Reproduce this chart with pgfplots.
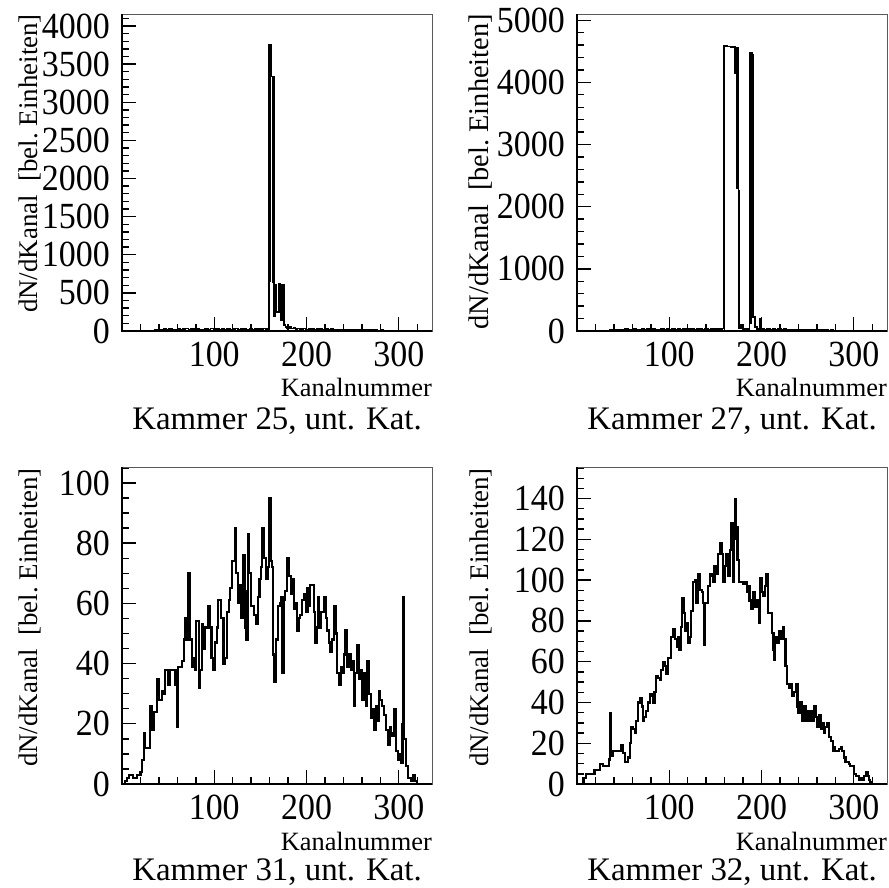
\documentclass[border=0pt]{standalone}
\usepackage{fontspec}
\setmainfont{Liberation Serif}
\newfontfamily\tickfont[FakeStretch=0.92]{Liberation Serif}
\usepackage{pgfplots}
\pgfplotsset{compat=1.18}
\pgfplotsset{
  rootaxis/.style={
    scale only axis, width=310bp, height=317bp,
    xmin=0, xmax=336, ymin=0,
    axis line style={draw=black!65, line width=0.8bp},
    tick align=inside, tick pos=left,
    major tick length=14bp, minor tick length=7bp,
    every tick/.style={black, line width=1.4bp},
    xtick={100,200,300}, minor xtick={20,40,...,320},
    ticklabel style={font=\tickfont\fontsize{37}{37}\selectfont},
    /pgf/number format/assume math mode=true,
    /pgf/number format/set thousands separator={},
    xticklabel style={inner sep=0pt, anchor=north, yshift=-11bp},
    yticklabel style={inner sep=0pt, anchor=east, xshift=-12bp},
    clip=false,
    anchor=south west,
  },
  hist/.style={const plot mark left, black, line width=2.1bp, no marks, line join=miter},
}
\newcommand{\axlines}{\draw[black, line width=1.5bp] (rel axis cs:0,1) -- (rel axis cs:0,0) -- (rel axis cs:1,0);}
\begin{document}
\begin{tikzpicture}
\path[use as bounding box] (0,0) rectangle (889bp,888bp);

% ---------- Panel 1 ----------
\begin{axis}[rootaxis, at={(122bp,557bp)}, ymax=4157,
  ytick={0,500,...,4000}, minor ytick={100,200,...,4100}]
\addplot[hist, line width=1.6bp] coordinates {
(0,0) (4,2) (8,1) (12,3) (16,2) (20,4) (24,3) (28,5) (32,8) (36,14) (39,22) (42,12) (45,25) (48,18) (51,30) (54,14) (57,20) (60,28) (63,16) (66,24) (69,33) (72,18) (75,26) (78,15) (81,30) (84,22) (87,18) (90,28) (93,20) (96,32) (99,16) (102,24) (105,20) (108,30) (111,22) (114,28) (117,18) (120,26) (123,34) (126,20) (129,24) (132,30) (135,18) (138,26) (141,22) (144,30) (147,24) (150,28) (153,34) (156,30)
(159,3750) (160,650) (161,3750) (162,3335) (163,640) (164,3335) (165,190) (166,600) (167.5,250) (170,625) (172,145) (173.5,610) (175.5,80) (177,55) (179,40) (181,50) (183,35) (186,40) (188,25) (190,35) (193,28) (196,35) (199,22) (202,30) (205,26) (208,20) (211,28) (214,24) (217,18) (220,26) (223,20) (226,24) (229,16) (232,22) (235,18) (238,20) (241,14) (244,22) (247,18) (250,16) (253,20) (256,12) (259,18) (262,14) (265,16) (268,10) (271,14) (274,12) (277,8) (280,12) (283,6) (286,9) (289,4) (292,6) (295,2) (300,3) (305,1) (310,2) (315,0) (336,0)
};
\axlines
\end{axis}

% ---------- Panel 2 ----------
\begin{axis}[rootaxis, at={(577bp,557bp)}, ymax=5100,
  ytick={0,1000,...,5000}, minor ytick={200,400,...,5000}]
\addplot[hist, line width=1.8bp] coordinates {
(0,0) (4,2) (8,1) (12,3) (16,2) (20,4) (24,2) (28,5) (32,6) (36,12) (40,20) (43,10) (46,24) (49,15) (52,28) (55,18) (58,22) (61,30) (64,16) (67,25) (70,35) (73,20) (76,28) (79,18) (82,32) (85,24) (88,20) (91,30) (94,22) (97,34) (100,18) (103,26) (106,22) (109,32) (112,24) (115,30) (118,20) (121,28) (124,36) (127,22) (130,26) (133,32) (136,20) (139,28) (142,24) (145,32) (148,26) (151,30) (154,36) (157,40)
(159,4585) (163,4578) (167,4568) (171,4150) (172,4560) (173,2300) (174,4555) (175,2260) (176,40) (178,90) (180,30) (182,25) (184,35) (186,20)
(187,4470) (188,120) (189,4470) (190,4440) (191,230) (193,60) (195,30) (198,200) (200,30) (203,25) (206,32) (209,20) (212,28) (215,22) (218,30) (221,18) (224,26) (227,20) (230,24) (233,16) (236,22) (239,18) (242,25) (245,15) (248,20) (251,18) (254,14) (257,20) (260,12) (263,16) (266,10) (269,14) (272,8) (275,12) (278,6) (281,9) (284,5) (287,7) (290,3) (295,4) (300,2) (305,3) (310,1) (315,0) (336,0)
};
\axlines
\end{axis}

% ---------- Panel 3 ----------
\begin{axis}[rootaxis, at={(122bp,104bp)}, ymax=105.3,
  ytick={0,20,...,100}, minor ytick={5,10,...,105}]
\addplot[hist] coordinates {
(0,0) (3,1) (5,2) (8,3) (12,2) (16,3) (20,4) (22,8) (24,17) (25,12) (27,12) (30,26) (33,18) (35,24) (38,35) (40,28) (43,31) (45,30) (47,38) (50,33) (52,38) (56,38) (58,33) (60,19) (61,39) (65,41) (67,48) (68,55) (71,48) (72,70) (74,48) (76,39) (78,42) (79,38) (80,54) (83,32) (85,38) (87,53) (88,45) (90,52) (93,59) (95,52) (97,42) (99,38) (101,47) (103,52) (104,61) (107,55) (110,40) (112,42) (114,57) (116,61) (117,65) (119,74) (122,85) (124,70) (126,60) (127,66) (129,55) (131,76) (133,52) (134,48) (136,64) (137,83) (138,70) (140,59) (143,56) (145,53) (147,62) (149,68) (151,72) (152,85) (154,75) (156,68) (158,72) (159,95) (161,74) (163,72) (164,43) (165,34) (167,48) (169,59) (171,60) (172,62) (174,37) (175,61) (177,64) (179,75) (181,69) (183,63) (184,68) (186,58) (188,60) (190,51) (192,55) (193,56) (195,61) (197,63) (199,57) (201,65) (203,59) (204,66) (206,66) (208,57) (209,47) (211,52) (213,62) (214,52) (216,57) (219,62) (221,55) (222,51) (224,47) (226,44) (228,48) (230,59) (232,50) (233,37) (235,33) (237,39) (239,37) (241,43) (242,51) (244,39) (246,43) (248,38) (250,41) (251,26) (253,37) (255,46) (257,35) (259,38) (260,28) (262,37) (264,26) (266,41) (268,30) (270,22) (271,25) (273,18) (275,26) (277,21) (279,31) (280,28) (282,26) (284,23) (286,18) (288,13) (290,19) (291,17) (293,16) (295,25) (297,11) (299,8) (300,10) (302,7) (304,20) (305,62) (306,15) (308,6) (310,2) (313,1) (315,3) (317,2) (318,1) (320,0) (336,0)
};
\axlines
\end{axis}

% ---------- Panel 4 ----------
\begin{axis}[rootaxis, at={(577bp,104bp)}, ymax=155.5,
  ytick={0,20,...,140}, minor ytick={5,10,...,155}]
\addplot[hist] coordinates {
(0,0) (6,0) (7,3) (10,5) (19,7) (25,10) (28,9) (35,12) (36,35) (37,14) (39,16) (46,16) (48,19) (50,15) (52,11) (55,13) (57,20) (59,28) (61,27) (63,25) (64,31) (66,40) (68,42) (70,38) (72,31) (73,33) (75,36) (77,40) (79,44) (81,43) (82,40) (84,45) (86,53) (88,52) (90,51) (91,56) (93,60) (95,58) (97,54) (99,62) (101,62) (102,72) (104,76) (106,71) (108,67) (110,72) (111,66) (113,77) (114,91) (116,84) (117,75) (119,79) (120,69) (122,72) (124,85) (126,99) (128,100) (129,89) (131,103) (133,95) (135,94) (137,89) (138,68) (139,89) (142,97) (144,103) (146,102) (147,99) (149,107) (151,103) (153,113) (155,118) (157,113) (158,99) (160,107) (162,113) (164,102) (166,115) (167,128) (169,99) (170,120) (171,140) (172,126) (174,110) (176,99) (178,99) (180,98) (182,99) (184,94) (186,97) (187,90) (189,86) (191,94) (193,87) (195,90) (197,79) (198,101) (200,94) (202,92) (204,97) (205,103) (207,84) (209,84) (211,74) (213,66) (214,61) (215,72) (217,69) (219,75) (221,71) (223,77) (224,71) (226,58) (228,49) (230,47) (231,49) (233,43) (235,45) (237,49) (239,38) (240,35) (242,40) (244,31) (246,38) (248,31) (249,36) (251,31) (253,36) (255,31) (257,38) (259,33) (260,28) (262,34) (264,27) (266,30) (268,25) (269,28) (271,30) (273,23) (275,21) (277,16) (278,18) (280,16) (284,17) (286,18) (287,16) (289,13) (291,11) (295,10) (296,9) (300,5) (302,4) (306,2) (307,3) (309,2) (311,4) (313,6) (315,4) (316,2) (318,1) (320,0) (336,0)
};
\axlines
\end{axis}

% ---------- texts ----------
\tikzset{ylab/.style={rotate=90, anchor=base east, inner sep=0pt, font=\fontsize{27}{27}\selectfont},
         xlab/.style={anchor=base east, inner sep=0pt, font=\fontsize{26.5}{26.5}\selectfont},
         ttl/.style={anchor=base, inner sep=0pt, font=\fontsize{33}{33}\selectfont}}
\node[ylab] at (37bp,874bp) {dN/dKanal\ \ [bel.\ Einheiten]};
\node[ylab, font=\fontsize{28.5}{28.5}\selectfont] at (488bp,874bp) {dN/dKanal\ \ [bel.\ Einheiten]};
\node[ylab] at (37bp,420bp) {dN/dKanal\ \ [bel.\ Einheiten]};
\node[ylab] at (488bp,420bp) {dN/dKanal\ \ [bel.\ Einheiten]};
\node[xlab] at (432bp,491bp) {Kanalnummer};
\node[xlab] at (887bp,491bp) {Kanalnummer};
\node[xlab] at (432bp,38bp) {Kanalnummer};
\node[xlab] at (887bp,38bp) {Kanalnummer};
\node[ttl] at (277bp,458bp) {Kammer 25, unt. Kat.};
\node[ttl] at (732bp,458bp) {Kammer 27, unt. Kat.};
\node[ttl] at (277bp,8bp) {Kammer 31, unt. Kat.};
\node[ttl] at (732bp,8bp) {Kammer 32, unt. Kat.};
\end{tikzpicture}
\end{document}
